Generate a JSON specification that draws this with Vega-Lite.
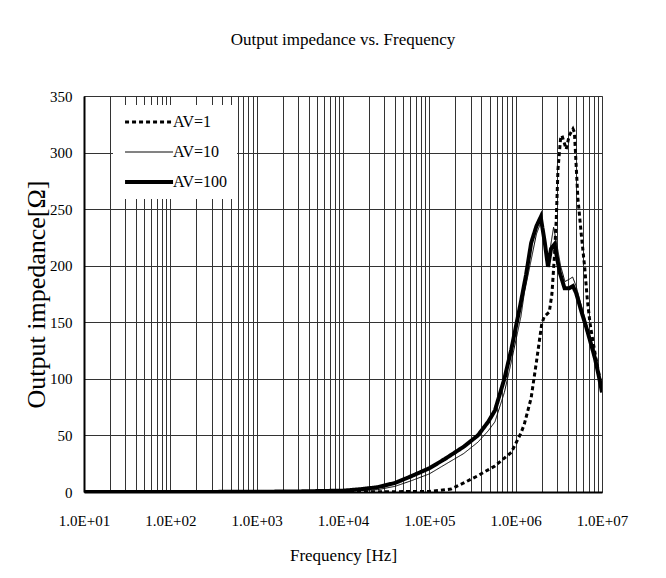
{
  "$schema": "https://vega.github.io/schema/vega-lite/v6.json",
  "width": 518,
  "height": 396,
  "padding": {"left": 23, "top": 31, "right": 5, "bottom": 5},
  "background": "white",
  "title": {"text": "Output impedance vs. Frequency", "font": "Liberation Serif", "fontSize": 17, "fontWeight": "normal", "color": "black", "anchor": "middle", "offset": 40},
  "config": {
    "view": {"stroke": "#888", "strokeWidth": 1},
    "axis": {"labelFont": "Liberation Serif", "titleFont": "Liberation Serif", "labelColor": "black", "titleColor": "black", "titleFontWeight": "normal", "gridColor": "#333", "gridOpacity": 1, "gridWidth": 1, "domainColor": "black", "domainWidth": 2, "ticks": false}
  },
  "data": {"values": [
    {"s":"AV=1","f":10,"z":0},
    {"s":"AV=1","f":10000,"z":0},
    {"s":"AV=1","f":100000,"z":0.5},
    {"s":"AV=1","f":178000,"z":2.6},
    {"s":"AV=1","f":250000,"z":8},
    {"s":"AV=1","f":365000,"z":14.4},
    {"s":"AV=1","f":575000,"z":23},
    {"s":"AV=1","f":890000,"z":35},
    {"s":"AV=1","f":1150000,"z":52},
    {"s":"AV=1","f":1260000,"z":60},
    {"s":"AV=1","f":1510000,"z":83},
    {"s":"AV=1","f":1740000,"z":115},
    {"s":"AV=1","f":2000000,"z":148},
    {"s":"AV=1","f":2140000,"z":155},
    {"s":"AV=1","f":2450000,"z":159},
    {"s":"AV=1","f":2630000,"z":175},
    {"s":"AV=1","f":2820000,"z":210},
    {"s":"AV=1","f":2950000,"z":240},
    {"s":"AV=1","f":3090000,"z":285},
    {"s":"AV=1","f":3310000,"z":312},
    {"s":"AV=1","f":3440000,"z":315},
    {"s":"AV=1","f":3850000,"z":303},
    {"s":"AV=1","f":4170000,"z":315},
    {"s":"AV=1","f":4610000,"z":321},
    {"s":"AV=1","f":4790000,"z":318},
    {"s":"AV=1","f":5010000,"z":290},
    {"s":"AV=1","f":5250000,"z":260},
    {"s":"AV=1","f":5750000,"z":228},
    {"s":"AV=1","f":6310000,"z":198},
    {"s":"AV=1","f":6760000,"z":170},
    {"s":"AV=1","f":7240000,"z":150},
    {"s":"AV=1","f":7590000,"z":140},
    {"s":"AV=1","f":8510000,"z":118},
    {"s":"AV=1","f":10000000,"z":90},
    {"s":"AV=10","f":10,"z":0},
    {"s":"AV=10","f":1000,"z":0.1},
    {"s":"AV=10","f":3000,"z":0.3},
    {"s":"AV=10","f":10000,"z":0.8},
    {"s":"AV=10","f":25000,"z":2},
    {"s":"AV=10","f":40000,"z":5},
    {"s":"AV=10","f":62000,"z":10},
    {"s":"AV=10","f":100000,"z":16},
    {"s":"AV=10","f":150000,"z":24},
    {"s":"AV=10","f":250000,"z":34},
    {"s":"AV=10","f":365000,"z":44},
    {"s":"AV=10","f":480000,"z":54},
    {"s":"AV=10","f":575000,"z":62},
    {"s":"AV=10","f":740000,"z":88},
    {"s":"AV=10","f":890000,"z":115},
    {"s":"AV=10","f":1150000,"z":155},
    {"s":"AV=10","f":1260000,"z":176},
    {"s":"AV=10","f":1510000,"z":205},
    {"s":"AV=10","f":1740000,"z":228},
    {"s":"AV=10","f":1950000,"z":238},
    {"s":"AV=10","f":2100000,"z":232},
    {"s":"AV=10","f":2240000,"z":210},
    {"s":"AV=10","f":2370000,"z":203},
    {"s":"AV=10","f":2510000,"z":215},
    {"s":"AV=10","f":2750000,"z":234},
    {"s":"AV=10","f":2950000,"z":222},
    {"s":"AV=10","f":3310000,"z":200},
    {"s":"AV=10","f":3720000,"z":186},
    {"s":"AV=10","f":4170000,"z":188},
    {"s":"AV=10","f":4570000,"z":190},
    {"s":"AV=10","f":5010000,"z":182},
    {"s":"AV=10","f":5750000,"z":165},
    {"s":"AV=10","f":6610000,"z":148},
    {"s":"AV=10","f":7240000,"z":137},
    {"s":"AV=10","f":8320000,"z":120},
    {"s":"AV=10","f":9330000,"z":102},
    {"s":"AV=10","f":10000000,"z":90},
    {"s":"AV=100","f":10,"z":0},
    {"s":"AV=100","f":100,"z":0},
    {"s":"AV=100","f":1000,"z":0.2},
    {"s":"AV=100","f":3000,"z":0.5},
    {"s":"AV=100","f":10000,"z":1.2},
    {"s":"AV=100","f":16000,"z":2.5},
    {"s":"AV=100","f":25000,"z":4.2},
    {"s":"AV=100","f":40000,"z":8},
    {"s":"AV=100","f":62000,"z":14},
    {"s":"AV=100","f":100000,"z":21},
    {"s":"AV=100","f":150000,"z":29},
    {"s":"AV=100","f":250000,"z":40},
    {"s":"AV=100","f":365000,"z":50},
    {"s":"AV=100","f":480000,"z":62},
    {"s":"AV=100","f":575000,"z":72},
    {"s":"AV=100","f":740000,"z":100},
    {"s":"AV=100","f":890000,"z":126},
    {"s":"AV=100","f":1150000,"z":168},
    {"s":"AV=100","f":1320000,"z":192},
    {"s":"AV=100","f":1510000,"z":220},
    {"s":"AV=100","f":1740000,"z":235},
    {"s":"AV=100","f":1950000,"z":243},
    {"s":"AV=100","f":2170000,"z":221},
    {"s":"AV=100","f":2370000,"z":199},
    {"s":"AV=100","f":2570000,"z":215},
    {"s":"AV=100","f":2820000,"z":219},
    {"s":"AV=100","f":3240000,"z":194},
    {"s":"AV=100","f":3690000,"z":180},
    {"s":"AV=100","f":4170000,"z":180},
    {"s":"AV=100","f":4610000,"z":182},
    {"s":"AV=100","f":5010000,"z":176},
    {"s":"AV=100","f":5750000,"z":160},
    {"s":"AV=100","f":6610000,"z":145},
    {"s":"AV=100","f":7200000,"z":135},
    {"s":"AV=100","f":8300000,"z":118},
    {"s":"AV=100","f":9330000,"z":100},
    {"s":"AV=100","f":10000000,"z":88}
  ]},
  "mark": {"type": "line", "color": "black", "clip": true},
  "encoding": {
    "x": {"field": "f", "type": "quantitative",
      "scale": {"type": "log", "domain": [10, 10000000], "nice": false},
      "axis": {"title": "Frequency [Hz]", "titleFontSize": 17, "titlePadding": 19, "labelFontSize": 15, "labelPadding": 21, "labelFlush": false, "labelOverlap": false,
        "values": [10,20,30,40,50,60,70,80,90,100,200,300,400,500,600,700,800,900,1000,2000,3000,4000,5000,6000,7000,8000,9000,10000,20000,30000,40000,50000,60000,70000,80000,90000,100000,200000,300000,400000,500000,600000,700000,800000,900000,1000000,2000000,3000000,4000000,5000000,6000000,7000000,8000000,9000000,10000000],
        "labelExpr": "abs(log(datum.value)/LN10 - round(log(datum.value)/LN10)) < 0.001 ? '1.0E+0' + round(log(datum.value)/LN10) : ''"}},
    "y": {"field": "z", "type": "quantitative",
      "scale": {"domain": [0, 350], "nice": false},
      "axis": {"title": "Output impedance[Ω]", "titleFontSize": 26, "titlePadding": 0, "labelFontSize": 15, "labelPadding": 12, "values": [0,50,100,150,200,250,300,350]}},
    "strokeDash": {"field": "s", "type": "nominal", "scale": {"domain": ["AV=1","AV=10","AV=100"], "range": [[4,3],[1,0],[1,0]]},
      "legend": {"title": null, "orient": "none", "legendX": 29, "legendY": 9, "padding": 9, "fillColor": "white", "strokeColor": null, "labelFont": "Liberation Serif", "labelFontSize": 16, "labelColor": "black", "symbolType": "M-0.33,0H2.87", "symbolSize": 900, "symbolStrokeColor": "black", "labelOffset": 35, "rowPadding": 14,
        "encode": {"symbols": {"update": {"strokeWidth": {"signal": "datum.value === 'AV=100' ? 4 : (datum.value === 'AV=10' ? 1 : 3)"}}}}}},
    "strokeWidth": {"condition": [{"test": "datum.s === 'AV=100'", "value": 4}, {"test": "datum.s === 'AV=1'", "value": 3}], "value": 1}
  }
}
